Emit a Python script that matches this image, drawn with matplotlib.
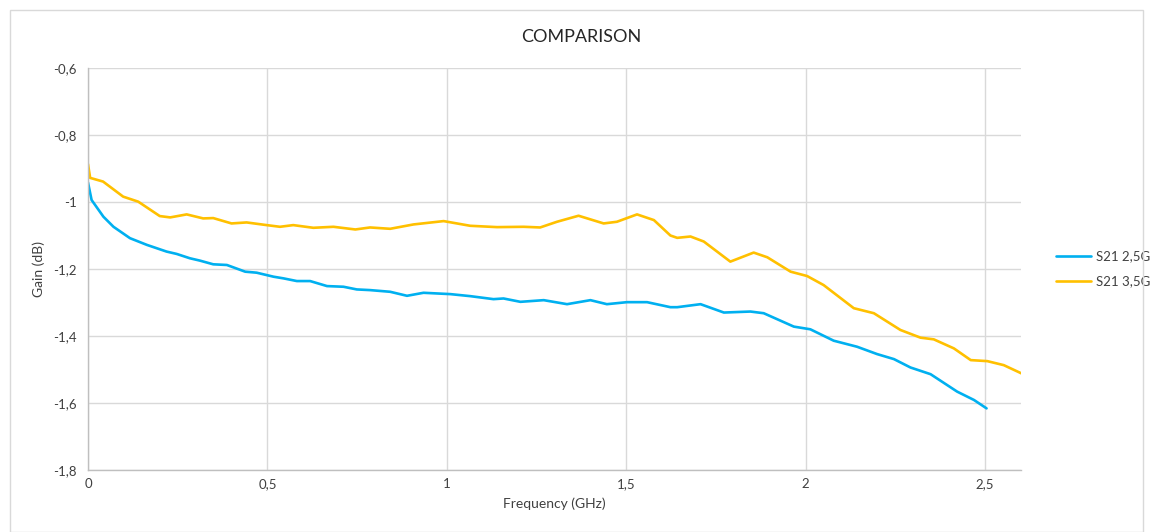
import matplotlib
matplotlib.use("Agg")
import matplotlib.pyplot as plt
from matplotlib.patches import Rectangle
from matplotlib.ticker import FuncFormatter

# S21 2,5G
freq_a = [0.0, 0.01, 0.043, 0.071, 0.117, 0.164, 0.219, 0.247, 0.284, 0.312, 0.349, 0.387,
          0.438, 0.47, 0.517, 0.545, 0.582, 0.619, 0.666, 0.712, 0.749, 0.786, 0.842, 0.889,
          0.935, 1.01, 1.065, 1.13, 1.158, 1.205, 1.27, 1.335, 1.40, 1.446, 1.502, 1.558,
          1.623, 1.642, 1.707, 1.772, 1.846, 1.883, 1.967, 2.013, 2.078, 2.143, 2.199,
          2.246, 2.292, 2.348, 2.422, 2.469, 2.504]
gain_a = [-0.942, -0.994, -1.044, -1.074, -1.108, -1.128, -1.148, -1.155, -1.168, -1.175,
          -1.186, -1.188, -1.208, -1.211, -1.223, -1.228, -1.236, -1.236, -1.251, -1.253,
          -1.261, -1.263, -1.268, -1.280, -1.271, -1.275, -1.281, -1.290, -1.288, -1.298,
          -1.293, -1.305, -1.293, -1.305, -1.299, -1.299, -1.314, -1.314, -1.305, -1.330,
          -1.327, -1.332, -1.372, -1.380, -1.414, -1.432, -1.454, -1.469, -1.494, -1.514,
          -1.566, -1.591, -1.616]

# S21 3,5G
freq_b = [0.0, 0.006, 0.042, 0.098, 0.14, 0.2, 0.229, 0.275, 0.321, 0.349, 0.40, 0.442,
          0.498, 0.535, 0.572, 0.628, 0.684, 0.745, 0.786, 0.842, 0.907, 0.991, 1.065,
          1.14, 1.214, 1.26, 1.307, 1.367, 1.437, 1.474, 1.53, 1.577, 1.623, 1.642, 1.679,
          1.716, 1.79, 1.855, 1.893, 1.958, 2.004, 2.05, 2.134, 2.19, 2.264, 2.32, 2.357,
          2.413, 2.46, 2.506, 2.552, 2.604]
gain_b = [-0.887, -0.928, -0.939, -0.984, -0.999, -1.042, -1.046, -1.037, -1.049, -1.048,
          -1.064, -1.061, -1.069, -1.074, -1.069, -1.077, -1.074, -1.082, -1.076, -1.080,
          -1.067, -1.057, -1.071, -1.075, -1.074, -1.076, -1.059, -1.041, -1.064, -1.059,
          -1.037, -1.054, -1.100, -1.107, -1.103, -1.118, -1.178, -1.151, -1.165, -1.208,
          -1.221, -1.248, -1.317, -1.332, -1.382, -1.405, -1.410, -1.437, -1.472, -1.475,
          -1.487, -1.513]

series_names = ["S21 2,5G", "S21 3,5G"]
x_ticks = [0, 0.5, 1, 1.5, 2, 2.5]
y_ticks = [-1.8, -1.6, -1.4, -1.2, -1.0, -0.8, -0.6]

plt.rcParams['font.family'] = ['Lato', 'DejaVu Sans']

fig = plt.figure(figsize=(11.53, 5.32), dpi=100)
W, H = 1153, 532
ax = fig.add_axes([88 / W, 1 - 470 / H, (1021 - 88) / W, (470 - 68) / H])

# outer chart border
fig.patches.append(Rectangle((10 / W, 0), (1143 - 10) / W, (532 - 10) / H,
                             transform=fig.transFigure, fill=False,
                             edgecolor='#D9D9D9', linewidth=1))

ax.plot(freq_a, gain_a, color='#00B0F0', linewidth=1.9, label=series_names[0],
        solid_joinstyle='round', solid_capstyle='round')
ax.plot(freq_b, gain_b, color='#FFC000', linewidth=1.9, label=series_names[1],
        solid_joinstyle='round', solid_capstyle='round')

ax.set_xlim(0, 2.6)
ax.set_ylim(-1.8, -0.6)
ax.set_xticks(x_ticks)
ax.set_yticks(y_ticks)

def fmt(v, pos):
    s = ('%g' % round(v, 2)).replace('.', ',')
    return s
ax.xaxis.set_major_formatter(FuncFormatter(fmt))
ax.yaxis.set_major_formatter(FuncFormatter(fmt))

ax.grid(True, color='#D9D9D9', linewidth=1)
ax.set_axisbelow(True)
for s in ['top', 'right']:
    ax.spines[s].set_visible(False)
for s in ['left', 'bottom']:
    ax.spines[s].set_color('#BFBFBF')
    ax.spines[s].set_linewidth(1)
ax.tick_params(axis='both', length=0, labelsize=9.5, colors='#404040', pad=8)
ax.tick_params(axis='x', pad=6)

ax.set_xlabel('Frequency (GHz)', fontsize=10, color='#404040', labelpad=5)
ax.set_ylabel('Gain (dB)', fontsize=10, color='#404040', labelpad=6)
fig.text(581 / W, 1 - 37 / H, 'COMPARISON', ha='center', va='center',
         fontsize=13, color='#262626')

leg = ax.legend(loc='center left', bbox_to_anchor=(1.025, 0.5), frameon=False,
                fontsize=9.5, handlelength=2.6, labelspacing=1.0, handletextpad=0.4)
for t in leg.get_texts():
    t.set_color('#404040')

fig.savefig('out.png', dpi=100)
